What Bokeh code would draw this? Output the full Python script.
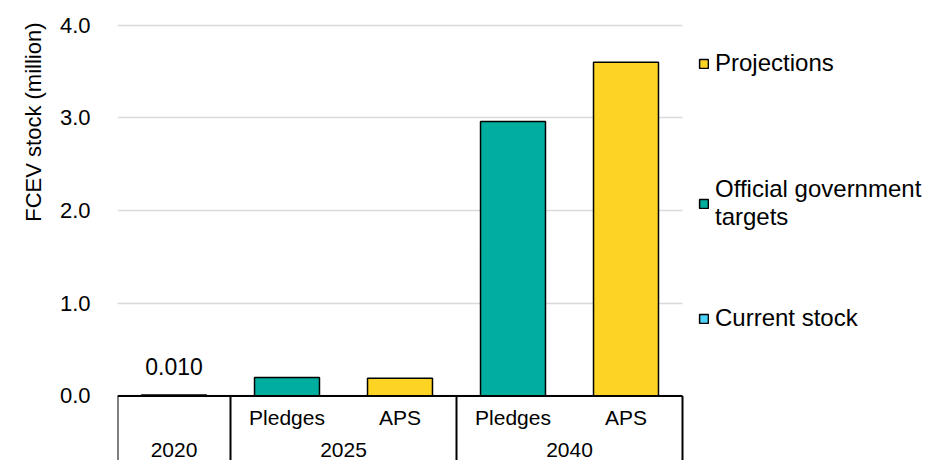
from bokeh.plotting import figure
from bokeh.models import (Range1d, FixedTicker, NumeralTickFormatter, Grid, Title,
                          Legend, LegendItem, ColumnDataSource)
from bokeh.core.properties import value
from bokeh.embed import file_html
from bokeh.resources import INLINE

# ---- data ----
years = ["2020", "2025", "2025", "2040", "2040"]
cases = ["", "Pledges", "APS", "Pledges", "APS"]
stock = [0.010, 0.20, 0.19, 2.96, 3.60]
series = ["Current stock", "Official government targets", "Projections",
          "Official government targets", "Projections"]
series_order = ["Projections", "Official government targets", "Current stock"]
series_labels = {"Projections": "Projections",
                 "Official government targets": "Official government\ntargets",
                 "Current stock": "Current stock"}
series_colors = {"Projections": "#FDD324",
                 "Official government targets": "#00AEA0",
                 "Current stock": "#4DD2F8"}
group_names = ["2020", "2025", "2040"]
y_ticks = [0, 1, 2, 3, 4]
y_title = "FCEV stock (million)"
labelled = ["Current stock"]

FONT = "Liberation Sans"
n = len(years)
xpos = [i + 0.5 for i in range(n)]          # category slots on the x scale
Y_BOTTOM = -0.696
X_END = n * (928 - 117) / (682 - 117)        # room on the right for the legend

p = figure(width=928, height=460, output_backend="svg", toolbar_location=None,
           x_range=Range1d(0, X_END), y_range=Range1d(Y_BOTTOM, 4.266),
           x_axis_location=None,
           min_border_left=117, min_border_right=0, min_border_top=0, min_border_bottom=0)
p.outline_line_color = None
p.background_fill_color = "white"
p.border_fill_color = "white"

# y axis
ax = p.yaxis[0]
ax.ticker = FixedTicker(ticks=y_ticks)
ax.formatter = NumeralTickFormatter(format="0.0")
ax.axis_line_color = None
ax.major_tick_line_color = None
ax.minor_tick_line_color = None
ax.major_tick_out = 0
ax.major_tick_in = 0
ax.major_label_standoff = 27
ax.major_label_text_font = FONT
ax.major_label_text_font_size = "22px"
ax.major_label_text_color = "#000000"

# y title, aligned toward the top of the plot like the reference
p.add_layout(Title(text=y_title, align="right", offset=22, standoff=21,
                   text_font=FONT, text_font_size="22px", text_font_style="normal",
                   text_color="#000000"), "left")

# grid only across the category slots
p.xgrid.visible = False
p.ygrid.ticker = FixedTicker(ticks=y_ticks)
p.ygrid.grid_line_color = "#D9D9D9"
p.ygrid.grid_line_width = 1.5
if "cross_bounds" in Grid.properties():
    p.ygrid.cross_bounds = (0, n)
else:
    p.ygrid.visible = False
    p.segment(x0=[0] * len(y_ticks), x1=[n] * len(y_ticks), y0=y_ticks, y1=y_ticks,
              line_color="#D9D9D9", line_width=1.5)

# bars per series
renderers = {}
for s in series_order:
    idx = [i for i, ss in enumerate(series) if ss == s]
    src = ColumnDataSource(dict(x=[xpos[i] for i in idx], top=[stock[i] for i in idx]))
    r = p.vbar(x="x", top="top", bottom=0, width=0.575, source=src,
               fill_color=series_colors[s], line_color="black", line_width=1.5)
    renderers[s] = r

# value label
lab_idx = [i for i, ss in enumerate(series) if ss in labelled]
p.text(x=[xpos[i] for i in lab_idx], y=[stock[i] for i in lab_idx],
       text=[f"{stock[i]:.3f}" for i in lab_idx],
       text_font=value(FONT), text_font_size="23px", text_color="#000000",
       text_align="center", text_baseline="bottom", y_offset=-20)

# category table below the axis
p.segment(x0=[0], x1=[n], y0=[0], y1=[0], line_color="black", line_width=2)
group_first = [years.index(g) for g in group_names]
sep_x = [float(i) for i in group_first] + [float(n)]
p.segment(x0=sep_x, x1=sep_x, y0=[0] * len(sep_x), y1=[Y_BOTTOM] * len(sep_x),
          line_color="black", line_width=2)
p.text(x=xpos, y=[-0.229] * n, text=cases,
       text_font=value(FONT), text_font_size="21px", text_color="#000000",
       text_align="center", text_baseline="middle")
group_x = [sum(xpos[i] for i in range(n) if years[i] == g) / years.count(g) for g in group_names]
p.text(x=group_x, y=[-0.588] * len(group_names), text=group_names,
       text_font=value(FONT), text_font_size="21px", text_color="#000000",
       text_align="center", text_baseline="middle")

# legends (one per item so their vertical positions match)
leg_pos = {"Projections": (581, 383), "Official government targets": (581, 229),
           "Current stock": (581, 128)}
for s in series_order:
    lg = Legend(items=[LegendItem(label=series_labels[s], renderers=[renderers[s]])],
                location=leg_pos[s], padding=0, margin=0, spacing=0,
                glyph_width=11, glyph_height=11, label_standoff=6,
                label_text_font=FONT, label_text_font_size="24px",
                label_text_color="#000000", label_text_line_height=1.15,
                background_fill_alpha=0, border_line_alpha=0)
    p.add_layout(lg)

open("out.html", "w").write(file_html(p, INLINE))
